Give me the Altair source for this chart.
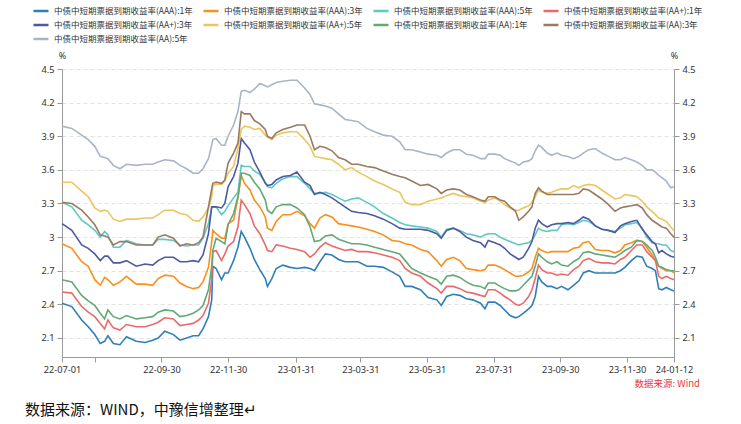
import altair as alt
import pandas as pd

dates = [
    "2022-07-01", "2022-07-10", "2022-07-19", "2022-07-25", "2022-07-31", "2022-08-05", "2022-08-09", "2022-08-12", "2022-08-17",
    "2022-08-23", "2022-08-29", "2022-09-07", "2022-09-15", "2022-09-22", "2022-09-27", "2022-10-03", "2022-10-11", "2022-10-17",
    "2022-10-23", "2022-10-29", "2022-11-03", "2022-11-07", "2022-11-12", "2022-11-15", "2022-11-16", "2022-11-19", "2022-11-24",
    "2022-11-27", "2022-11-30", "2022-12-05", "2022-12-09", "2022-12-12", "2022-12-15", "2022-12-20", "2022-12-24", "2022-12-29",
    "2023-01-03", "2023-01-05", "2023-01-09", "2023-01-13", "2023-01-19", "2023-01-26", "2023-02-01", "2023-02-08",
    "2023-02-13", "2023-02-17", "2023-02-22", "2023-02-27", "2023-03-05", "2023-03-11", "2023-03-17", "2023-03-23", "2023-03-29",
    "2023-04-06", "2023-04-13", "2023-04-21", "2023-04-29", "2023-05-06", "2023-05-11", "2023-05-17", "2023-05-25", "2023-06-01",
    "2023-06-09", "2023-06-13", "2023-06-18", "2023-06-24", "2023-06-30", "2023-07-06", "2023-07-12", "2023-07-19", "2023-07-23",
    "2023-07-26", "2023-08-01", "2023-08-06", "2023-08-10", "2023-08-15", "2023-08-20", "2023-08-23", "2023-08-27", "2023-09-01",
    "2023-09-04", "2023-09-07", "2023-09-10", "2023-09-13", "2023-09-18", "2023-09-22", "2023-09-27",
    "2023-10-01", "2023-10-07", "2023-10-12", "2023-10-17", "2023-10-21", "2023-10-26", "2023-11-01", "2023-11-07", "2023-11-13",
    "2023-11-19", "2023-11-24", "2023-11-28", "2023-12-04", "2023-12-09", "2023-12-14", "2023-12-18", "2023-12-23", "2023-12-26",
    "2023-12-29", "2024-01-01", "2024-01-05", "2024-01-09", "2024-01-12",
]

aaa_1y = [
    2.41, 2.38, 2.26, 2.20, 2.13, 2.05, 2.07, 2.12, 2.05, 2.04, 2.11, 2.07, 2.06, 2.08, 2.10, 2.16, 2.13, 2.08,
    2.10, 2.12, 2.12, 2.18, 2.29, 2.44, 2.74, 2.72, 2.62, 2.68, 2.68, 2.79, 2.91, 3.05, 3.00, 2.90, 2.80, 2.71, 2.63, 2.56, 2.63, 2.72, 2.75, 2.73, 2.72, 2.73,
    2.72, 2.70, 2.78, 2.85, 2.84, 2.80, 2.78, 2.78, 2.78, 2.74, 2.74, 2.73, 2.69, 2.65, 2.56, 2.56, 2.53, 2.46,
    2.44, 2.39, 2.47, 2.49, 2.48, 2.45, 2.44, 2.41, 2.36, 2.42, 2.42, 2.39, 2.35, 2.30, 2.28, 2.29, 2.32, 2.36, 2.39, 2.47, 2.65, 2.60, 2.56, 2.56, 2.54,
    2.56, 2.53, 2.57, 2.61, 2.68, 2.70, 2.68, 2.68, 2.68, 2.68, 2.70, 2.73, 2.79, 2.83, 2.82, 2.74, 2.72, 2.70, 2.54, 2.53, 2.55, 2.53, 2.52,
]
aaa_3y = [
    2.94, 2.90, 2.78, 2.74, 2.62, 2.57, 2.64, 2.62, 2.57, 2.60, 2.65, 2.58, 2.58, 2.57, 2.63, 2.66, 2.65, 2.59,
    2.56, 2.54, 2.55, 2.60, 2.73, 2.96, 3.06, 3.03, 2.99, 2.99, 3.12, 3.15, 3.35, 3.55, 3.48, 3.42, 3.33, 3.27, 3.18, 3.08, 3.06, 3.14, 3.20, 3.20, 3.23, 3.19,
    3.12, 3.08, 3.17, 3.20, 3.18, 3.12, 3.11, 3.10, 3.09, 3.07, 3.05, 3.02, 2.97, 2.96, 2.94, 2.93, 2.89, 2.87,
    2.79, 2.74, 2.80, 2.82, 2.79, 2.72, 2.71, 2.70, 2.71, 2.75, 2.75, 2.73, 2.71, 2.68, 2.65, 2.65, 2.66, 2.69, 2.72, 2.82, 2.90, 2.88, 2.86, 2.87, 2.87,
    2.87, 2.87, 2.90, 2.91, 2.95, 2.96, 2.89, 2.88, 2.88, 2.86, 2.88, 2.93, 2.95, 2.97, 2.96, 2.91, 2.84, 2.79, 2.74, 2.72, 2.70, 2.70, 2.68,
]
aaa_5y = [
    3.31, 3.27, 3.15, 3.11, 3.06, 3.00, 3.05, 3.02, 2.91, 2.91, 2.97, 2.94, 2.93, 2.93, 2.98, 2.98, 2.97, 2.93,
    2.92, 2.93, 2.93, 2.99, 3.12, 3.27, 3.27, 3.27, 3.20, 3.23, 3.28, 3.35, 3.40, 3.64, 3.63, 3.63, 3.59, 3.56, 3.49, 3.45, 3.44, 3.48, 3.52, 3.54, 3.54, 3.48,
    3.43, 3.39, 3.39, 3.40, 3.38, 3.35, 3.32, 3.34, 3.35, 3.31, 3.27, 3.21, 3.17, 3.13, 3.11, 3.10, 3.09, 3.08,
    3.05, 3.00, 3.07, 3.08, 3.06, 3.03, 3.02, 3.00, 3.02, 3.03, 3.03, 3.00, 2.98, 2.96, 2.94, 2.93, 2.94, 2.95, 2.97, 3.02, 3.08, 3.06, 3.05, 3.06, 3.06,
    3.11, 3.12, 3.11, 3.13, 3.15, 3.14, 3.10, 3.07, 3.06, 3.05, 3.08, 3.11, 3.12, 3.13, 3.08, 3.00, 2.95, 2.94, 2.94, 2.93, 2.93, 2.88, 2.87,
]
aap_1y = [
    2.51, 2.50, 2.38, 2.33, 2.29, 2.23, 2.18, 2.26, 2.19, 2.17, 2.22, 2.20, 2.20, 2.22, 2.24, 2.28, 2.27, 2.21,
    2.22, 2.23, 2.26, 2.30, 2.41, 2.62, 2.87, 2.88, 2.79, 2.85, 2.92, 2.96, 3.09, 3.33, 3.29, 3.21, 3.10, 3.03, 2.93, 2.88, 2.87, 2.93, 2.92, 2.90, 2.89, 2.87,
    2.82, 2.85, 2.91, 2.95, 2.92, 2.90, 2.88, 2.89, 2.87, 2.87, 2.86, 2.84, 2.82, 2.79, 2.72, 2.68, 2.65, 2.59,
    2.54, 2.50, 2.56, 2.56, 2.54, 2.51, 2.50, 2.48, 2.47, 2.53, 2.53, 2.50, 2.47, 2.44, 2.40, 2.39, 2.41, 2.47, 2.53, 2.63, 2.75, 2.71, 2.68, 2.68, 2.66,
    2.67, 2.66, 2.71, 2.74, 2.79, 2.81, 2.78, 2.77, 2.77, 2.76, 2.80, 2.82, 2.88, 2.93, 2.93, 2.87, 2.82, 2.79, 2.65, 2.63, 2.65, 2.63, 2.62,
]
aap_3y = [
    3.12, 3.06, 2.93, 2.90, 2.85, 2.79, 2.83, 2.83, 2.77, 2.77, 2.79, 2.74, 2.76, 2.75, 2.79, 2.82, 2.82, 2.78,
    2.78, 2.79, 2.78, 2.84, 3.03, 3.27, 3.27, 3.27, 3.26, 3.30, 3.45, 3.54, 3.66, 3.88, 3.84, 3.78, 3.67, 3.58, 3.48, 3.46, 3.47, 3.51, 3.54, 3.55, 3.58, 3.49,
    3.46, 3.38, 3.40, 3.38, 3.35, 3.31, 3.27, 3.23, 3.22, 3.21, 3.19, 3.16, 3.12, 3.08, 3.07, 3.07, 3.07, 3.06,
    3.03, 2.99, 3.06, 3.08, 3.05, 3.00, 2.97, 2.95, 2.91, 2.97, 2.95, 2.93, 2.90, 2.85, 2.82, 2.80, 2.82, 2.90, 2.96, 3.08, 3.15, 3.12, 3.09, 3.11, 3.12,
    3.12, 3.13, 3.12, 3.15, 3.18, 3.16, 3.10, 3.07, 3.06, 3.04, 3.10, 3.12, 3.14, 3.15, 3.07, 3.02, 2.96, 2.94, 2.86, 2.88, 2.85, 2.83, 2.82,
]
aap_5y = [
    3.49, 3.49, 3.41, 3.36, 3.26, 3.23, 3.24, 3.23, 3.16, 3.14, 3.16, 3.16, 3.17, 3.17, 3.20, 3.24, 3.24, 3.21,
    3.20, 3.15, 3.14, 3.18, 3.26, 3.36, 3.46, 3.47, 3.47, 3.50, 3.57, 3.63, 3.79, 3.96, 3.99, 3.98, 3.96, 3.97, 3.91, 3.89, 3.87, 3.91, 3.93, 3.94, 3.94, 3.87,
    3.81, 3.72, 3.71, 3.70, 3.69, 3.65, 3.60, 3.62, 3.58, 3.54, 3.50, 3.47, 3.43, 3.40, 3.31, 3.29, 3.29, 3.32,
    3.34, 3.35, 3.37, 3.39, 3.37, 3.36, 3.35, 3.32, 3.31, 3.33, 3.35, 3.32, 3.29, 3.26, 3.24, 3.24, 3.26, 3.28, 3.31, 3.36, 3.42, 3.40, 3.39, 3.40, 3.42,
    3.43, 3.43, 3.46, 3.44, 3.46, 3.47, 3.46, 3.42, 3.38, 3.34, 3.35, 3.38, 3.37, 3.36, 3.32, 3.27, 3.23, 3.20, 3.17, 3.16, 3.14, 3.09, 3.06,
]
aa_1y = [
    2.62, 2.60, 2.48, 2.43, 2.39, 2.32, 2.27, 2.35, 2.29, 2.27, 2.30, 2.27, 2.28, 2.29, 2.33, 2.35, 2.34, 2.29,
    2.30, 2.32, 2.35, 2.39, 2.53, 2.74, 2.88, 2.99, 2.96, 2.94, 3.11, 3.21, 3.36, 3.57, 3.57, 3.55, 3.49, 3.43, 3.33, 3.24, 3.21, 3.27, 3.29, 3.29, 3.26, 3.20,
    3.09, 2.96, 2.97, 3.01, 3.02, 2.98, 2.96, 2.94, 2.94, 2.93, 2.91, 2.89, 2.87, 2.85, 2.79, 2.72, 2.68, 2.65,
    2.62, 2.58, 2.65, 2.66, 2.64, 2.60, 2.57, 2.56, 2.54, 2.59, 2.59, 2.56, 2.54, 2.52, 2.52, 2.53, 2.57, 2.62, 2.65, 2.74, 2.85, 2.82, 2.78, 2.76, 2.78,
    2.75, 2.74, 2.78, 2.81, 2.86, 2.87, 2.85, 2.84, 2.83, 2.82, 2.85, 2.88, 2.91, 2.97, 2.96, 2.93, 2.88, 2.82, 2.74, 2.73, 2.71, 2.70, 2.70,
]
aa_3y = [
    3.31, 3.30, 3.24, 3.18, 3.11, 3.02, 3.01, 3.00, 2.93, 2.96, 2.96, 2.93, 2.93, 2.93, 3.00, 3.02, 2.99, 2.92,
    2.94, 2.93, 2.95, 3.00, 3.27, 3.43, 3.48, 3.49, 3.48, 3.51, 3.66, 3.75, 3.84, 4.12, 4.10, 4.10, 4.04, 4.01, 3.96, 3.90, 3.88, 3.93, 3.96, 3.98, 4.00, 4.00,
    3.90, 3.78, 3.81, 3.80, 3.77, 3.71, 3.69, 3.65, 3.65, 3.63, 3.62, 3.59, 3.56, 3.54, 3.53, 3.50, 3.46, 3.47,
    3.43, 3.39, 3.42, 3.43, 3.42, 3.38, 3.36, 3.33, 3.32, 3.36, 3.36, 3.33, 3.32, 3.27, 3.23, 3.15, 3.18, 3.23, 3.27, 3.39, 3.44, 3.41, 3.38, 3.38, 3.38,
    3.38, 3.38, 3.38, 3.39, 3.43, 3.42, 3.38, 3.34, 3.29, 3.23, 3.26, 3.27, 3.28, 3.29, 3.26, 3.20, 3.15, 3.13, 3.11, 3.09, 3.08, 3.03, 3.00,
]
aa_5y = [
    3.99, 3.97, 3.91, 3.87, 3.81, 3.72, 3.71, 3.70, 3.64, 3.61, 3.65, 3.64, 3.65, 3.65, 3.67, 3.69, 3.68, 3.64,
    3.61, 3.57, 3.57, 3.61, 3.70, 3.82, 3.87, 3.88, 3.82, 3.82, 3.90, 4.00, 4.12, 4.30, 4.31, 4.29, 4.32, 4.37, 4.35, 4.34, 4.36, 4.38, 4.39, 4.40, 4.40, 4.33,
    4.27, 4.19, 4.18, 4.17, 4.15, 4.10, 4.05, 4.04, 4.03, 3.97, 3.94, 3.91, 3.90, 3.85, 3.78, 3.78, 3.76, 3.74,
    3.73, 3.71, 3.75, 3.78, 3.78, 3.74, 3.73, 3.70, 3.70, 3.74, 3.74, 3.73, 3.70, 3.68, 3.66, 3.64, 3.67, 3.68, 3.70, 3.77, 3.82, 3.80, 3.75, 3.73, 3.75,
    3.73, 3.72, 3.70, 3.72, 3.75, 3.78, 3.79, 3.75, 3.72, 3.69, 3.69, 3.71, 3.69, 3.67, 3.64, 3.60, 3.60, 3.58, 3.55, 3.53, 3.50, 3.44, 3.45,
]

names = [
    "中债中短期票据到期收益率(AAA):1年",
    "中债中短期票据到期收益率(AAA):3年",
    "中债中短期票据到期收益率(AAA):5年",
    "中债中短期票据到期收益率(AA+):1年",
    "中债中短期票据到期收益率(AA+):3年",
    "中债中短期票据到期收益率(AA+):5年",
    "中债中短期票据到期收益率(AA):1年",
    "中债中短期票据到期收益率(AA):3年",
    "中债中短期票据到期收益率(AA):5年",
]
colors = ["#2f7fb6", "#f7901e", "#5fc7c4", "#e86b6b", "#4b5aa1", "#ecc561", "#63a877", "#9a7a61", "#a9b5c5"]

y_ticks = [2.1, 2.4, 2.7, 3.0, 3.3, 3.6, 3.9, 4.2, 4.5]
x_ticks = ["2022-07-01", "2022-07-31", "2022-09-30", "2022-11-30", "2023-01-31", "2023-03-31",
           "2023-05-31", "2023-07-31", "2023-09-30", "2023-11-30", "2024-01-12"]

series = [aaa_1y, aaa_3y, aaa_5y, aap_1y, aap_3y, aap_5y, aa_1y, aa_3y, aa_5y]
rows = []
for name, vals in zip(names, series):
    for d, v in zip(dates, vals):
        rows.append({"date": d, "rate": v, "series": name})
df = pd.DataFrame(rows)


def dt(s):
    y, m, d = map(int, s.split("-"))
    return alt.DateTime(year=y, month=m, date=d, utc=True)


FONT = "Noto Sans"
CJK = "Noto Sans CJK SC"
AXC = "#9a9a9a"
LBL = "#333333"

x_scale = alt.Scale(type="utc", domain=[dt(x_ticks[0]), dt(x_ticks[-1])], nice=False)
x_axis = alt.Axis(
    values=[dt(s) for s in x_ticks],
    labelExpr="utcFormat(datum.value, '%y-%m-%d') == '22-07-31' ? '' : utcFormat(datum.value, '%y-%m-%d')",
    grid=False, domainColor=AXC, tickColor=AXC, tickSize=5, labelFontSize=9.2, labelFont=FONT,
    labelColor=LBL, labelPadding=3, labelOverlap=False, labelFlush=False, title=None,
)
y_scale = alt.Scale(domain=[1.93, 4.5], nice=False, zero=False)


def y_axis(orient, grid):
    return alt.Axis(
        orient=orient, values=y_ticks, format=".2~f", grid=grid, gridDash=[4, 3], gridColor="#e3e3e3",
        domainColor=AXC, tickColor=AXC, tickSize=5, labelFontSize=9.2, labelFont=FONT, labelColor=LBL,
        labelPadding=3, labelFlush=False, title="%", titleAngle=0, titleX=0, titleY=-14, titleAlign="center",
        titleBaseline="middle", titleFontWeight="normal", titleFontSize=9, titleFont=FONT, titleColor=LBL,
    )


legend = alt.Legend(
    title=None, orient="none", legendX=-30, legendY=-67, direction="horizontal", columns=4,
    symbolType="stroke", symbolSize=225, symbolStrokeWidth=2.5, labelFontSize=8.5, labelFont=CJK,
    labelColor=LBL, labelLimit=400, columnPadding=5, rowPadding=0, labelOffset=4,
)

lines = alt.Chart(df).mark_line(strokeWidth=1.6).encode(
    x=alt.X("date:T", scale=x_scale, axis=x_axis),
    y=alt.Y("rate:Q", scale=y_scale, axis=y_axis("left", True)),
    color=alt.Color("series:N", scale=alt.Scale(domain=names, range=colors), legend=legend),
)

right = alt.Chart(df).mark_line(strokeOpacity=0).encode(
    x=alt.X("date:T", scale=x_scale, axis=x_axis),
    y=alt.Y("rate:Q", scale=y_scale, axis=y_axis("right", False)),
    detail="series:N",
)

src = alt.Chart(pd.DataFrame({"t": ["数据来源: Wind"]})).mark_text(
    align="right", baseline="middle", fontSize=9.5, color="#e8393a", font=CJK
).encode(text="t:N", x=alt.value(638), y=alt.value(315))

cap = alt.Chart(pd.DataFrame({"t": ["数据来源：WIND，中豫信增整理↵"]})).mark_text(
    align="left", baseline="middle", fontSize=15, color="#111111", font=CJK
).encode(text="t:N", x=alt.value(-37), y=alt.value(341))

chart = (
    alt.layer(lines, right, src, cap)
    .resolve_axis(y="independent")
    .properties(
        width=612, height=288,
        padding={"left": 62, "top": 69, "right": 67, "bottom": 67},
        autosize=alt.AutoSizeParams(type="none"),
        background="white",
    )
    .configure_view(stroke=None)
)

chart.save("out.html", embed_options={"renderer": "svg", "actions": False})
